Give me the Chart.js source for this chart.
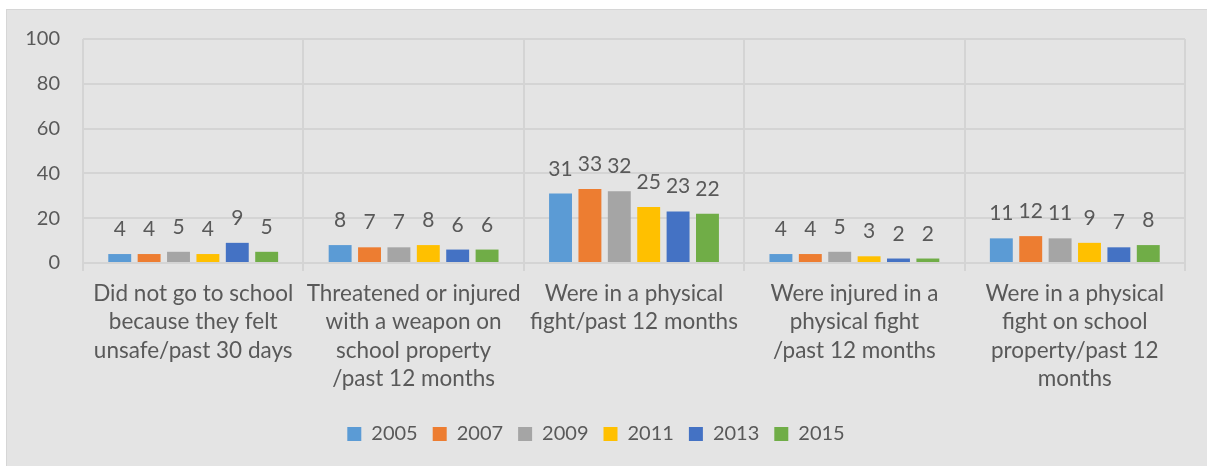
<!DOCTYPE html>
<html>
<head>
<meta charset="utf-8">
<script src="https://cdn.jsdelivr.net/npm/chart.js@4/dist/chart.umd.min.js"></script>
<style>
  html, body { margin: 0; padding: 0; background: #ffffff; }
  #wrap {
    position: absolute; left: 6px; top: 9px;
    width: 1200px; height: 456px;
    background: #e4e4e4;
    border-left: 1px solid #d6d6d6;
    border-top: 1px solid #d6d6d6;
  }
  canvas { display: block; }
</style>
</head>
<body>
<div id="wrap"><canvas id="chart" width="1200" height="456"></canvas></div>
<script>
// 分類（x 軸標籤，已分行）
const categories = [
    ['Did not go to school', 'because they felt', 'unsafe/past 30 days'],
    ['Threatened or injured', 'with a weapon on', 'school property', '/past 12 months'],
    ['Were in a physical', 'fight/past 12 months'],
    ['Were injured in a', 'physical fight', '/past 12 months'],
    ['Were in a physical', 'fight on school', 'property/past 12', 'months']
];

// 各年份數值
const years = ['2005', '2007', '2009', '2011', '2013', '2015'];
const v2005 = [4, 8, 31, 4, 11];
const v2007 = [4, 7, 33, 4, 12];
const v2009 = [5, 7, 32, 5, 11];
const v2011 = [4, 8, 25, 3, 9];
const v2013 = [9, 6, 23, 2, 7];
const v2015 = [5, 6, 22, 2, 8];

// y 軸刻度
const yTicks = [0, 20, 40, 60, 80, 100];

const colors = ['#5B9BD5', '#ED7D31', '#A5A5A5', '#FFC000', '#4472C4', '#70AD47'];
const series = [v2005, v2007, v2009, v2011, v2013, v2015];

const textColor = '#595959';
const gridColor = '#d4d4d4';
const font = 'Lato';

// 資料標籤
const valueLabels = {
    id: 'valueLabels',
    afterDatasetsDraw(chart) {
        const ctx = chart.ctx;
        ctx.save();
        ctx.fillStyle = textColor;
        ctx.font = '21px ' + font;
        ctx.textAlign = 'center';
        ctx.textBaseline = 'alphabetic';
        chart.data.datasets.forEach(function (ds, i) {
            const meta = chart.getDatasetMeta(i);
            meta.data.forEach(function (bar, j) {
                ctx.fillText(String(ds.data[j]), bar.x, bar.y - 18);
            });
        });
        ctx.restore();
    }
};

const ctx = document.getElementById('chart').getContext('2d');
new Chart(ctx, {
    type: 'bar',
    data: {
        labels: categories,
        datasets: years.map(function (y, i) {
            return {
                label: y,
                data: series[i],
                backgroundColor: colors[i],
                categoryPercentage: 0.8,
                barPercentage: 0.78
            };
        })
    },
    options: {
        responsive: false,
        animation: false,
        layout: { padding: { top: 29, right: 22, left: 0, bottom: 12 } },
        plugins: {
            tooltip: { enabled: false },
            legend: {
                position: 'bottom',
                labels: {
                    color: textColor,
                    font: { family: font, size: 20 },
                    boxWidth: 14,
                    boxHeight: 14,
                    padding: 15
                }
            }
        },
        scales: {
            x: {
                grid: { color: gridColor, lineWidth: 2, tickLength: 8, offset: true },
                border: { display: false },
                ticks: {
                    color: textColor,
                    font: { family: font, size: 22.5, lineHeight: 1.27 },
                    padding: 8,
                    maxRotation: 0,
                    autoSkip: false
                },
                afterFit: function (s) { s.height = 146; }
            },
            y: {
                min: 0,
                max: 100,
                afterBuildTicks: function (s) {
                    s.ticks = yTicks.map(function (v) { return { value: v }; });
                },
                // 刻度線透明，只用來把標籤往左推
                grid: { color: gridColor, lineWidth: 2, drawTicks: true, tickLength: 23, tickColor: 'rgba(0,0,0,0)' },
                border: { display: false },
                ticks: {
                    color: textColor,
                    font: { family: font, size: 20 },
                    padding: 0
                },
                afterFit: function (s) { s.width = 76; }
            }
        }
    },
    plugins: [valueLabels]
});
</script>
</body>
</html>
